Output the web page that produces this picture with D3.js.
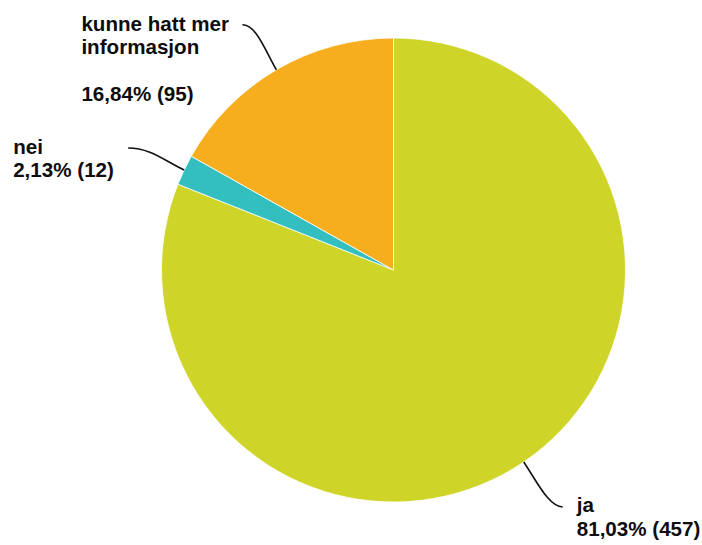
<!DOCTYPE html>
<html>
<head>
<meta charset="utf-8">
<script src="https://cdn.jsdelivr.net/npm/d3@7"></script>
<style>
  body { margin: 0; background: #fff; }
  text { font-family: "Liberation Sans", Arial, sans-serif; font-weight: bold; font-size: 20.6px; fill: #0d0d0d; }
</style>
</head>
<body>
<div id="chart"></div>
<script>
// data
var categories = ["ja", "nei", "kunne hatt mer informasjon"];
var counts = [457, 12, 95];
var percents = ["81,03%", "2,13%", "16,84%"];
var labelLines = [["ja"], ["nei"], ["kunne hatt mer", "informasjon", ""]];
var colors = ["#cfd428", "#33bec0", "#f6ae1f"];

var width = 702, height = 545;
var cx = 393.5, cy = 270, radius = 232;

// where each leader line ends (offset from the slice edge) and where the text goes (offset from line end)
var leader = [
  { dx: 39, dy: 45, hx: -14, tx: 14, ty: 5.5 },
  { dx: -56, dy: -22, hx: 22, tx: -115, ty: 5.5 },
  { dx: -34, dy: -45, hx: 14, tx: -161, ty: 6 }
];
var lineH = 23.5;

var svg = d3.select("#chart").append("svg")
    .attr("width", width)
    .attr("height", height);

var g = svg.append("g")
    .attr("transform", "translate(" + cx + "," + cy + ")");

var pie = d3.pie()
    .sort(null)
    .value(function (d) { return d; });

var arc = d3.arc()
    .innerRadius(0)
    .outerRadius(radius);

var arcs = pie(counts);

g.selectAll(".slice")
    .data(arcs)
    .enter().append("path")
    .attr("class", "slice")
    .attr("d", arc)
    .attr("fill", function (d, i) { return colors[i]; })
    .attr("stroke", "#fff")
    .attr("stroke-width", 0.8);

arcs.forEach(function (d, i) {
    var a = (d.startAngle + d.endAngle) / 2;
    var ux = Math.sin(a), uy = -Math.cos(a);
    var p0 = [ux * radius, uy * radius];
    var p1 = [p0[0] + ux * 22, p0[1] + uy * 22];
    var L = leader[i];
    var e = [p0[0] + L.dx, p0[1] + L.dy];
    var p2 = [e[0] + L.hx, e[1]];

    var path = d3.path();
    path.moveTo(p0[0], p0[1]);
    path.bezierCurveTo(p1[0], p1[1], p2[0], p2[1], e[0], e[1]);

    g.append("path")
        .attr("d", path.toString())
        .attr("fill", "none")
        .attr("stroke", "#111")
        .attr("stroke-width", 1.6);

    var lines = labelLines[i].concat([percents[i] + " (" + counts[i] + ")"]);
    var t = g.append("text")
        .attr("x", e[0] + L.tx)
        .attr("y", e[1] + L.ty);
    lines.forEach(function (s, j) {
        t.append("tspan")
            .attr("x", e[0] + L.tx)
            .attr("y", e[1] + L.ty + j * lineH)
            .text(s);
    });
});
</script>
</body>
</html>
